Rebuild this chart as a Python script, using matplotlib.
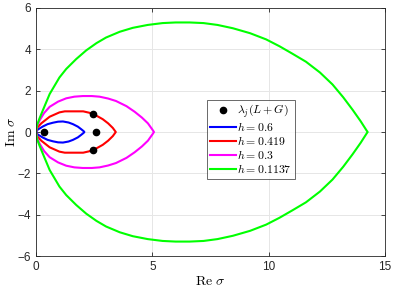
import numpy as np
import matplotlib
matplotlib.use("Agg")
import matplotlib.pyplot as plt

plt.rcParams['mathtext.fontset'] = 'cm'
plt.rcParams['font.family'] = ['Liberation Sans', 'DejaVu Sans']

# upper-half boundary points (Re, Im); lower half is the complex conjugate
green_re = [0.0, 0.05, 0.15, 0.30, 0.59, 1.01, 1.30, 1.73, 2.16, 2.60, 3.01, 3.60, 4.16, 4.80, 5.44, 6.00, 6.60,
            7.20, 7.80, 8.46, 9.20, 9.89, 10.46, 11.00, 11.60, 12.20, 12.74, 13.20, 13.60, 13.95, 14.20, 14.25]
green_im = [0.0, 0.35, 0.65, 1.06, 1.84, 2.64, 3.05, 3.53, 3.95, 4.30, 4.57, 4.85, 5.04, 5.18, 5.27, 5.30, 5.30,
            5.27, 5.18, 5.02, 4.78, 4.48, 4.15, 3.80, 3.40, 2.88, 2.30, 1.68, 1.08, 0.52, 0.08, 0.0]
mag_re = [0.0, 0.05, 0.16, 0.35, 0.59, 0.95, 1.30, 1.65, 2.01, 2.40, 2.73, 3.10, 3.44, 3.89, 4.24, 4.55, 4.81, 5.00, 5.07]
mag_im = [0.0, 0.30, 0.57, 0.92, 1.22, 1.47, 1.63, 1.71, 1.74, 1.74, 1.71, 1.62, 1.50, 1.25, 0.98, 0.70, 0.42, 0.12, 0.0]
red_re = [0.0, 0.05, 0.23, 0.59, 1.01, 1.24, 1.87, 2.03, 2.30, 2.60, 2.87, 3.10, 3.30, 3.43]
red_im = [0.0, 0.20, 0.42, 0.74, 0.95, 1.00, 1.00, 1.00, 0.93, 0.79, 0.62, 0.42, 0.20, 0.0]
blue_re = [0.0, 0.08, 0.30, 0.50, 0.73, 0.95, 1.16, 1.40, 1.59, 1.80, 1.94, 2.05, 2.08]
blue_im = [0.0, 0.12, 0.27, 0.38, 0.45, 0.50, 0.51, 0.46, 0.38, 0.26, 0.14, 0.04, 0.0]

eig_re = [0.34, 2.59, 2.44, 2.44]
eig_im = [0.0, 0.0, 0.87, -0.87]

labels = ['$h = 0.6$', '$h = 0.419$', '$h = 0.3$', '$h = 0.1137$']
colors = ['#0000ff', '#ff0000', '#ff00ff', '#00ff00']

def closed(re, im):
    re = np.array(re); im = np.array(im)
    return np.concatenate([re, re[::-1][1:]]), np.concatenate([im, -im[::-1][1:]])

fig = plt.figure(figsize=(3.95, 2.96), dpi=100)
ax = fig.add_axes([0.091, 0.135, 0.884, 0.838])

ax.plot(eig_re, eig_im, 'o', color='k', markersize=4.5, label=r'$\lambda_j(L+G)$', zorder=5)
for (re, im), lab, c in zip([(blue_re, blue_im), (red_re, red_im), (mag_re, mag_im), (green_re, green_im)], labels, colors):
    x, y = closed(re, im)
    ax.plot(x, y, '-', color=c, lw=1.5, label=lab, solid_joinstyle='round')

ax.set_xlim(0, 15)
ax.set_ylim(-6, 6)
ax.set_xticks([0, 5, 10, 15])
ax.set_yticks([-6, -4, -2, 0, 2, 4, 6])
ax.grid(True, color='#e6e6e6', lw=0.7)
ax.set_axisbelow(True)
for s in ax.spines.values():
    s.set_color('#262626')
    s.set_linewidth(0.6)
ax.tick_params(direction='in', length=3, width=0.6, labelsize=8.5, colors='#262626', top=True, right=True)
ax.set_xlabel(r'$\mathrm{Re}\ \sigma$', fontsize=10, labelpad=1)
ax.set_ylabel(r'$\mathrm{Im}\ \sigma$', fontsize=10, labelpad=0)

leg = ax.legend(loc='upper left', bbox_to_anchor=(0.49, 0.63), fontsize=8.5, frameon=True, fancybox=False,
                edgecolor='#262626', handlelength=2.2, handletextpad=0.1, borderpad=0.25, labelspacing=0.1,
                borderaxespad=0)
leg.get_frame().set_linewidth(0.6)

fig.savefig('out.png', dpi=100)
